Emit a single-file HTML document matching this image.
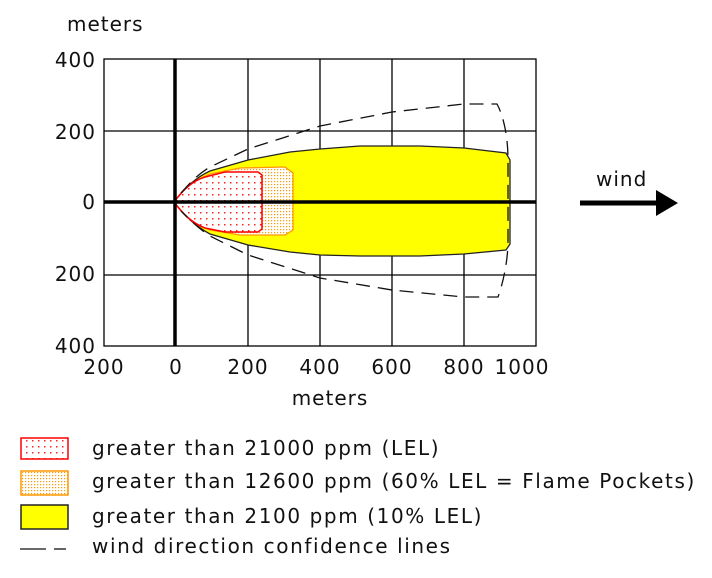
<!DOCTYPE html>
<html><head><style>
body{margin:0;background:#fff;}
svg text{font-family:"DejaVu Sans","Liberation Sans",sans-serif;font-size:20px;fill:#111;letter-spacing:1px;}
svg text.lg{letter-spacing:1.6px;}
</style></head><body>
<svg width="712" height="573" viewBox="0 0 712 573" xmlns="http://www.w3.org/2000/svg">
<defs>
<pattern id="rd" width="6" height="6" patternUnits="userSpaceOnUse"><rect width="6" height="6" fill="#fff"/><rect x="2" y="2" width="1.5" height="1.5" fill="#f22"/></pattern>
<pattern id="od" width="3" height="3" patternUnits="userSpaceOnUse"><rect width="3" height="3" fill="#fff"/><rect x="1" y="1" width="1.2" height="1.2" fill="#f90"/></pattern>
</defs>
<g stroke="#000" stroke-width="1.3" fill="none">
<rect x="104" y="59" width="432" height="287"/>
<line x1="248" y1="59" x2="248" y2="346"/><line x1="320" y1="59" x2="320" y2="346"/>
<line x1="392" y1="59" x2="392" y2="346"/><line x1="464" y1="59" x2="464" y2="346"/>
<line x1="104" y1="131" x2="536" y2="131"/><line x1="104" y1="275" x2="536" y2="275"/>
</g>
<path d="M174,202 C185,188 195,178 210,171 L248,160 L290,152 L320,149 L360,146 L420,146 L464,148 L506,153 L510,160 L510,244 L506,250 L464,254 L420,256 L360,256 L320,255 L290,252 L248,245 L210,234 C195,226 185,216 174,202Z" fill="#ff0" stroke="#222" stroke-width="1.3"/>
<path d="M174,202 C185,190 195,180 210,174 L240,168 L285,167 L293,173 L293,230 L285,235 L240,235 L210,230 C195,224 185,214 174,202Z" fill="url(#od)" stroke="#f90" stroke-width="1.3"/>
<path d="M174,202 C183,190 192,181 205,177 L225,172 L258,172 L262,175 L262,229 L258,232 L225,232 L205,228 C192,223 183,214 174,202Z" fill="url(#rd)" stroke="#f00" stroke-width="1.5"/>
<g stroke="#111" stroke-width="1.3" fill="none" stroke-dasharray="14,8">
<path d="M181,193 C190,183 198,174 210,167 L248,149 L320,126 L392,112 L464,104 L497,104 C503,115 508,135 508,160 L508,245 C507,265 503,283 498,297 L464,297 L392,290 L320,278 L248,255 L210,236 C198,228 190,220 181,211"/>
</g>
<line x1="104" y1="202" x2="536" y2="202" stroke="#000" stroke-width="3.5"/>
<line x1="175" y1="59" x2="175" y2="346" stroke="#000" stroke-width="3.5"/>
<text x="67" y="31">meters</text>
<g text-anchor="end">
<text x="96" y="67">400</text><text x="96" y="139">200</text><text x="96" y="209">0</text>
<text x="96" y="281">200</text><text x="96" y="353">400</text>
</g>
<g text-anchor="middle">
<text x="104" y="374">200</text><text x="176" y="374">0</text><text x="248" y="374">200</text>
<text x="320" y="374">400</text><text x="392" y="374">600</text><text x="464" y="374">800</text>
<text x="522" y="374">1000</text>
<text x="330" y="405">meters</text>
</g>
<text x="596" y="186">wind</text>
<line x1="580" y1="203" x2="660" y2="203" stroke="#000" stroke-width="5"/>
<polygon points="656,190 678,203 656,216" fill="#000"/>
<rect x="21" y="438" width="47" height="21" fill="url(#rd)" stroke="#f00" stroke-width="1.5"/>
<rect x="21" y="471" width="47" height="24" fill="url(#od)" stroke="#f90" stroke-width="1.5"/>
<rect x="21" y="505" width="47" height="24" fill="#ff0" stroke="#222" stroke-width="1.5"/>
<line x1="20" y1="549" x2="46" y2="549" stroke="#111" stroke-width="1.3"/>
<line x1="54" y1="549" x2="66" y2="549" stroke="#111" stroke-width="1.3"/>
<text class="lg" x="92" y="455">greater than 21000 ppm (LEL)</text>
<text class="lg" x="92" y="488">greater than 12600 ppm (60% LEL = Flame Pockets)</text>
<text class="lg" x="92" y="523">greater than 2100 ppm (10% LEL)</text>
<text class="lg" x="92" y="553">wind direction confidence lines</text>
</svg>
</body></html>
